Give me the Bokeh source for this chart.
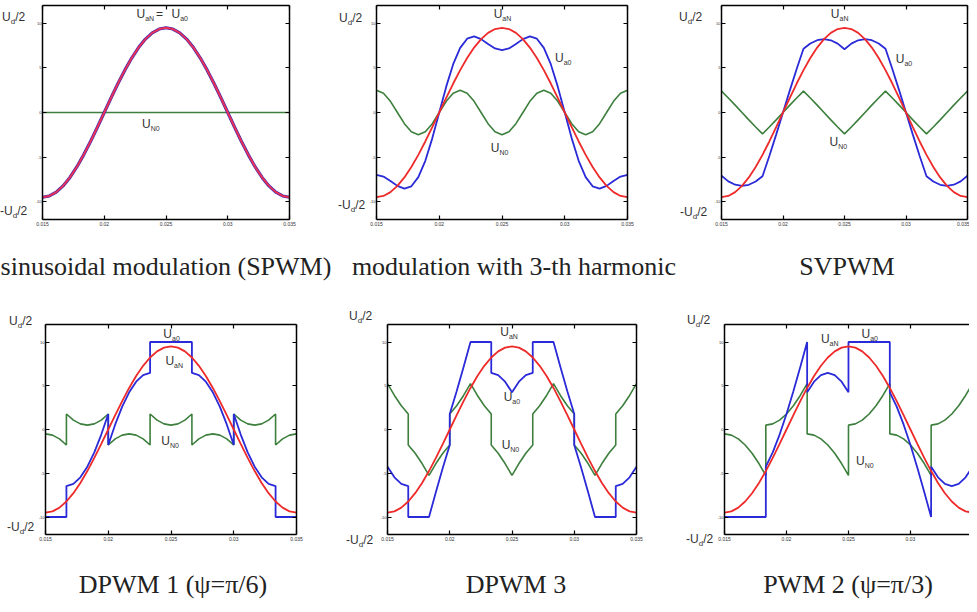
from bokeh.plotting import figure
from bokeh.models import Range1d, LinearAxis, FixedTicker, Label, Div
from bokeh.layouts import row, column
from bokeh.embed import file_html
from bokeh.resources import INLINE

# ---------------- data (phase angle in degrees over one period) ----------------
ang = [0, 10, 20, 30, 40, 50, 60, 70, 80, 90, 100, 110, 120, 130, 140, 150, 160, 170, 180,
       190, 200, 210, 220, 230, 240, 250, 260, 270, 280, 290, 300, 310, 320, 330, 340, 350, 360]
# grids with the switching instants doubled (jumps)
ang_j30 = [0, 10, 20, 30, 30, 40, 50, 60, 70, 80, 90, 90, 100, 110, 120, 130, 140, 150, 150,
           160, 170, 180, 190, 200, 210, 210, 220, 230, 240, 250, 260, 270, 270, 280, 290, 300,
           310, 320, 330, 330, 340, 350, 360]
ang_j60 = [0, 10, 20, 30, 40, 50, 60, 60, 70, 80, 90, 100, 110, 120, 120, 130, 140, 150, 160,
           170, 180, 180, 190, 200, 210, 220, 230, 240, 240, 250, 260, 270, 280, 290, 300, 300,
           310, 320, 330, 340, 350, 360]

# reference phase voltage U_aN (red)
u_aN = [-0.95, -0.936, -0.893, -0.823, -0.728, -0.611, -0.475, -0.325, -0.165, 0.0, 0.165, 0.325,
        0.475, 0.611, 0.728, 0.823, 0.893, 0.936, 0.95, 0.936, 0.893, 0.823, 0.728, 0.611, 0.475,
        0.325, 0.165, 0.0, -0.165, -0.325, -0.475, -0.611, -0.728, -0.823, -0.893, -0.936, -0.95]

# SPWM
spwm_x_n0 = [0, 360]
spwm_n0 = [0.0, 0.0]

# 3rd harmonic injection
h3_n0 = [0.25, 0.217, 0.125, 0.0, -0.125, -0.217, -0.25, -0.217, -0.125, 0.0, 0.125, 0.217,
         0.25, 0.217, 0.125, 0.0, -0.125, -0.217, -0.25, -0.217, -0.125, 0.0, 0.125, 0.217,
         0.25, 0.217, 0.125, 0.0, -0.125, -0.217, -0.25, -0.217, -0.125, 0.0, 0.125, 0.217, 0.25]
h3_a0 = [-0.70, -0.719, -0.768, -0.823, -0.853, -0.828, -0.725, -0.542, -0.29, 0.0, 0.29, 0.542,
         0.725, 0.828, 0.853, 0.823, 0.768, 0.719, 0.70, 0.719, 0.768, 0.823, 0.853, 0.828, 0.725,
         0.542, 0.29, 0.0, -0.29, -0.542, -0.725, -0.828, -0.853, -0.823, -0.768, -0.719, -0.70]

# SVPWM
sv_n0 = [0.24, 0.163, 0.083, 0.0, -0.083, -0.163, -0.24, -0.163, -0.083, 0.0, 0.083, 0.163,
         0.24, 0.163, 0.083, 0.0, -0.083, -0.163, -0.24, -0.163, -0.083, 0.0, 0.083, 0.163,
         0.24, 0.163, 0.083, 0.0, -0.083, -0.163, -0.24, -0.163, -0.083, 0.0, 0.083, 0.163, 0.24]
sv_a0 = [-0.71, -0.773, -0.81, -0.823, -0.811, -0.774, -0.715, -0.488, -0.248, 0.0, 0.248, 0.488,
         0.715, 0.774, 0.811, 0.823, 0.81, 0.773, 0.71, 0.773, 0.81, 0.823, 0.811, 0.774, 0.715,
         0.488, 0.248, 0.0, -0.248, -0.488, -0.715, -0.774, -0.811, -0.823, -0.81, -0.773, -0.71]

# DPWM 1
d1_n0 = [-0.05, -0.064, -0.107, -0.177,
         0.177, 0.107, 0.064, 0.05, 0.064, 0.107, 0.177,
         -0.177, -0.107, -0.064, -0.05, -0.064, -0.107, -0.177,
         0.177, 0.107, 0.064, 0.05, 0.064, 0.107, 0.177,
         -0.177, -0.107, -0.064, -0.05, -0.064, -0.107, -0.177,
         0.177, 0.107, 0.064, 0.05, 0.064, 0.107, 0.177,
         -0.177, -0.107, -0.064, -0.05]
d1_a0 = [-1.0, -1.0, -1.0, -1.0,
         -0.646, -0.621, -0.547, -0.425, -0.261, -0.058, 0.177,
         -0.177, 0.058, 0.261, 0.425, 0.547, 0.621, 0.646,
         1.0, 1.0, 1.0, 1.0, 1.0, 1.0, 1.0,
         0.646, 0.621, 0.547, 0.425, 0.261, 0.058, -0.177,
         0.177, -0.058, -0.261, -0.425, -0.547, -0.621, -0.646,
         -1.0, -1.0, -1.0, -1.0]

# DPWM 3
d3_n0 = [0.525, 0.389, 0.272, 0.177,
         -0.177, -0.272, -0.389, -0.525, -0.389, -0.272, -0.177,
         0.177, 0.272, 0.389, 0.525, 0.389, 0.272, 0.177,
         -0.177, -0.272, -0.389, -0.525, -0.389, -0.272, -0.177,
         0.177, 0.272, 0.389, 0.525, 0.389, 0.272, 0.177,
         -0.177, -0.272, -0.389, -0.525, -0.389, -0.272, -0.177,
         0.177, 0.272, 0.389, 0.525]
d3_a0 = [-0.425, -0.547, -0.621, -0.646,
         -1.0, -1.0, -1.0, -1.0, -0.714, -0.437, -0.177,
         0.177, 0.437, 0.714, 1.0, 1.0, 1.0, 1.0,
         0.646, 0.621, 0.547, 0.425, 0.547, 0.621, 0.646,
         1.0, 1.0, 1.0, 1.0, 0.714, 0.437, 0.177,
         -0.177, -0.437, -0.714, -1.0, -1.0, -1.0, -1.0,
         -0.646, -0.621, -0.547, -0.425]

# PWM 2
p2_n0 = [-0.05, -0.064, -0.107, -0.177, -0.272, -0.389, -0.525,
         0.05, 0.064, 0.107, 0.177, 0.272, 0.389, 0.525,
         -0.05, -0.064, -0.107, -0.177, -0.272, -0.389, -0.525,
         0.05, 0.064, 0.107, 0.177, 0.272, 0.389, 0.525,
         -0.05, -0.064, -0.107, -0.177, -0.272, -0.389, -0.525,
         0.05, 0.064, 0.107, 0.177, 0.272, 0.389, 0.525]
p2_a0 = [-1.0, -1.0, -1.0, -1.0, -1.0, -1.0, -1.0,
         -0.425, -0.261, -0.058, 0.177, 0.437, 0.714, 1.0,
         0.425, 0.547, 0.621, 0.646, 0.621, 0.547, 0.425,
         1.0, 1.0, 1.0, 1.0, 1.0, 1.0, 1.0,
         0.425, 0.261, 0.058, -0.177, -0.437, -0.714, -1.0,
         -0.425, -0.547, -0.621, -0.646, -0.621, -0.547, -0.425]

x_tick_vals = [0, 90, 180, 270, 360]
x_tick_labels = ["0.015", "0.02", "0.025", "0.03", "0.035"]
y_tick_vals = [-1, -0.5, 0, 0.5, 1]
y_tick_labels = ["-10", "-5", "0", "5", "10"]

titles = ["sinusoidal modulation (SPWM)", "modulation with 3-th harmonic", "SVPWM",
          "DPWM 1 (\u03c8=\u03c0/6)", "DPWM 3", "PWM 2 (\u03c8=\u03c0/3)"]

RED = "#ee2a2a"
BLUE = "#2a2ad8"
GREEN = "#3d7f3d"
TXT = "#333333"

CW = {"U": 0.722, "a": 0.556, "N": 0.722, "0": 0.556, "d": 0.556, "/": 0.278, "2": 0.556,
      "-": 0.333, "=": 0.584, " ": 0.278}


def tw(s, size):
    return sum(CW.get(c, 0.556) for c in s) * size


def lab(p, x, y, text, size, xo=0.0, yo=0.0):
    p.add_layout(Label(x=x, y=y, x_offset=xo, y_offset=yo, text=text,
                       text_font="Liberation Sans", text_font_size=f"{size}px",
                       text_color=TXT, text_baseline="middle", text_align="left"))


def u_label(p, x, y, sub, size=12, xo=0.0):
    ss = round(size * 0.6)
    lab(p, x, y, "U", size, xo)
    xo += tw("U", size)
    lab(p, x, y, sub, ss, xo, -0.38 * size)
    xo += tw(sub, ss)
    return xo


def style_axis(ax, ticks, labels=None, font="5px", standoff=2):
    ax.ticker = FixedTicker(ticks=ticks)
    ax.major_tick_in = 4
    ax.major_tick_out = 0
    ax.minor_tick_line_color = None
    ax.axis_line_width = 1.5
    ax.axis_line_color = "black"
    ax.major_tick_line_width = 1.2
    if labels is None:
        ax.major_label_overrides = {t: "" for t in ticks}
        ax.major_label_text_font_size = "0px"
        ax.major_label_standoff = 0
    else:
        ax.major_label_overrides = dict(zip(ticks, labels))
        ax.major_label_text_font_size = font
        ax.major_label_text_font = "Liberation Sans"
        ax.major_label_text_color = TXT
        ax.major_label_standoff = standoff


def make_fig(w, h, left, right, top, bottom, x_end, right_axis=True):
    p = figure(width=w, height=h, x_range=Range1d(0, x_end), y_range=Range1d(-1.2, 1.2),
               output_backend="svg", toolbar_location=None,
               min_border_left=left, min_border_right=right,
               min_border_top=top, min_border_bottom=bottom)
    p.outline_line_color = None
    p.grid.visible = False
    p.background_fill_color = "white"
    p.border_fill_color = "white"
    bottom_ax = p.below[0]
    left_ax = p.left[0]
    style_axis(bottom_ax, x_tick_vals, x_tick_labels, "5px", 2)
    style_axis(left_ax, y_tick_vals, y_tick_labels, "4px", 1)
    top_ax = LinearAxis()
    style_axis(top_ax, x_tick_vals)
    p.add_layout(top_ax, "above")
    if right_axis:
        r_ax = LinearAxis()
        style_axis(r_ax, y_tick_vals)
        p.add_layout(r_ax, "right")
    return p


UD = "U<sub style='font-size:8px;vertical-align:-3px'>d</sub>/2"


def ylab_div(w, h, top_pos, bot_pos):
    (l1, t1), (l2, t2) = top_pos, bot_pos
    span = ("<span style='position:absolute;left:{l}px;top:{t}px;font-family:\"Liberation Sans\";"
            "font-size:12px;line-height:14px;color:#333;white-space:nowrap'>{s}</span>")
    html = (f"<div style='position:relative;width:{w}px;height:{h}px;overflow:hidden'>"
            + span.format(l=l1, t=t1, s=UD) + span.format(l=l2, t=t2, s="-" + UD) + "</div>")
    return Div(text=html, width=w, height=h, margin=0)


def title_div(w, h, top, items):
    span = ("<span style='position:absolute;left:{c}px;top:{t}px;transform:translateX(-50%);"
            "font-family:\"Liberation Serif\";font-size:26px;line-height:30px;color:#222;"
            "white-space:nowrap'>{s}</span>")
    html = f"<div style='position:relative;width:{w}px;height:{h}px'>"
    for c, s in items:
        html += span.format(c=c, t=top, s=s)
    html += "</div>"
    return Div(text=html, width=w, height=h, margin=0)


# ---------------- panel 1: SPWM ----------------
p1 = make_fig(306, 236, 8, 49, 5, 16, 360)
p1.line(spwm_x_n0, spwm_n0, line_color=GREEN, line_width=1.6)
p1.line(ang, u_aN, line_color="#3a2ab0", line_width=3.2)
p1.line(ang, u_aN, line_color="#e8305a", line_width=2.0)
xo = u_label(p1, 137, 1.11, "aN")
lab(p1, 137, 1.10, "=", 12, xo + 2)
u_label(p1, 188, 1.11, "a0")
u_label(p1, 145, -0.13, "N0")

# ---------------- panel 2: 3rd harmonic ----------------
p2 = make_fig(306, 236, 8, 45, 2, 15, 360)
p2.line(ang, h3_n0, line_color=GREEN, line_width=1.6)
p2.line(ang, h3_a0, line_color=BLUE, line_width=1.8)
p2.line(ang, u_aN, line_color=RED, line_width=1.8)
u_label(p2, 168, 1.11, "aN")
u_label(p2, 256, 0.61, "a0")
u_label(p2, 164, -0.40, "N0")

# ---------------- panel 3: SVPWM ----------------
p3 = make_fig(258, 236, 8, 2, 2, 17, 360)
p3.line(ang, sv_n0, line_color=GREEN, line_width=1.6)
p3.line(ang, sv_a0, line_color=BLUE, line_width=1.8)
p3.line(ang, u_aN, line_color=RED, line_width=1.8)
u_label(p3, 160, 1.11, "aN")
u_label(p3, 255, 0.60, "a0")
u_label(p3, 158, -0.33, "N0")

# ---------------- panel 4: DPWM 1 ----------------
p4 = make_fig(303, 256, 8, 42, 15, 14, 360)
p4.line(ang_j30, d1_n0, line_color=GREEN, line_width=1.6)
p4.line(ang_j30, d1_a0, line_color=BLUE, line_width=1.8)
p4.line(ang, u_aN, line_color=RED, line_width=1.8)
u_label(p4, 169, 1.09, "a0")
u_label(p4, 172, 0.78, "aN")
u_label(p4, 166, -0.13, "N0")

# ---------------- panel 5: DPWM 3 ----------------
p5 = make_fig(299, 256, 8, 40, 32, 11, 360)
p5.line(ang_j30, d3_n0, line_color=GREEN, line_width=1.6)
p5.line(ang_j30, d3_a0, line_color=BLUE, line_width=1.8)
p5.line(ang, u_aN, line_color=RED, line_width=1.8)
u_label(p5, 163, 1.11, "aN")
u_label(p5, 168, 0.37, "a0")
u_label(p5, 165, -0.18, "N0")

# ---------------- panel 6: PWM 2 ----------------
p6 = make_fig(255, 256, 8, 0, 23, 11, 355.7, right_axis=False)
p6.line(ang_j60, p2_n0, line_color=GREEN, line_width=1.6)
p6.line(ang_j60, p2_a0, line_color=BLUE, line_width=1.8)
p6.line(ang, u_aN, line_color=RED, line_width=1.8)
u_label(p6, 140, 1.03, "aN")
u_label(p6, 199, 1.09, "a0")
u_label(p6, 191, -0.36, "N0")

# ---------------- side labels and titles ----------------
d1 = ylab_div(32, 236, (2, 10), (0, 204))
d2 = ylab_div(28, 236, (1, 11), (0, 198))
d3 = ylab_div(39, 236, (7, 10), (8, 205))
d4 = ylab_div(35, 256, (9, 22), (7, 228))
d5 = ylab_div(39, 256, (11, 17), (8, 241))
d6 = ylab_div(38, 256, (11, 21), (10, 240))

t_row1 = title_div(969, 56, 16, [(166, titles[0]), (514, titles[1]), (847, titles[2])])
t_row2 = title_div(969, 56, 22, [(173, titles[3]), (516, titles[4]), (848, titles[5])])

layout = column(row(d1, p1, d2, p2, d3, p3), t_row1,
                row(d4, p4, d5, p5, d6, p6), t_row2)
open("out.html", "w").write(file_html(layout, INLINE))
